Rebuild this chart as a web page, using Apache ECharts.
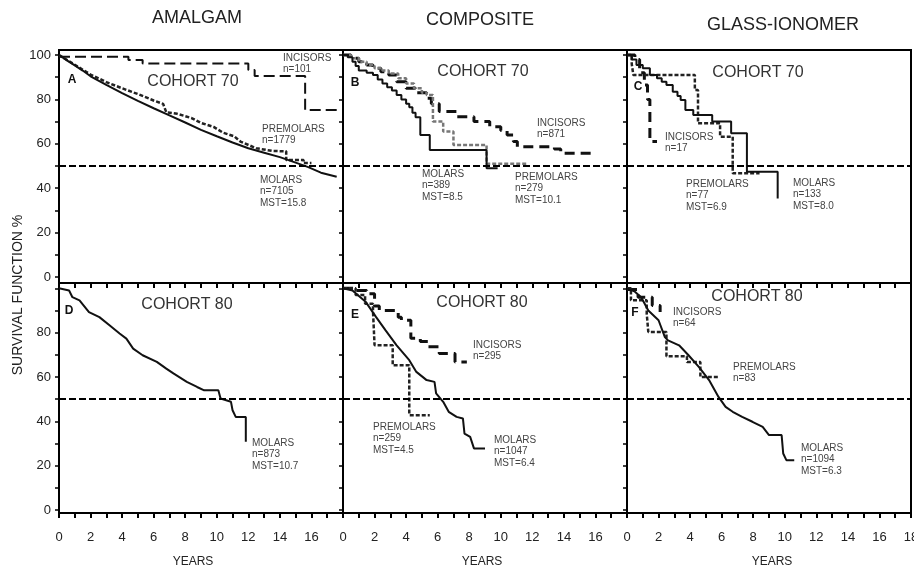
<!DOCTYPE html>
<html>
<head>
<meta charset="utf-8">
<title>Survival function by material and cohort</title>
<script src="https://cdn.jsdelivr.net/npm/echarts@6/dist/echarts.min.js"></script>
<style>
  html, body { margin: 0; padding: 0; background: #fff; }
  #chart { width: 914px; height: 570px; }
</style>
</head>
<body>
<div id="chart"></div>
<script>
// [years, survival %]

// A - amalgam, cohort 70
var aMolars = [[0, 100], [0.5, 97.6], [1, 95.3], [1.5, 93], [2, 90.4], [3, 86.5], [4, 82.8], [5, 79.3], [6, 76], [7, 72.8], [8, 69.6], [9, 66.3], [10, 63.4], [11, 60.6], [12, 58], [13, 56], [14, 54], [15, 51.5], [15.8, 49.5], [16.6, 47], [17.6, 45.2]]
var aPremolars = [[0, 100], [1, 95.6], [2, 91.2], [3, 87.8], [4, 85], [5, 82.4], [6, 79.5], [6.6, 78], [6.8, 74.2], [7.5, 73.5], [8.4, 71.6], [9, 69.4], [9.8, 67.6], [10.4, 65], [11.1, 63.4], [11.5, 61], [12.5, 58], [13.5, 56.8], [14.4, 56.6], [14.4, 52.7], [15.5, 52.7], [15.5, 51.3], [16, 51.3]]
var aIncisors = [[0, 99.2], [4.4, 97.7], [5.3, 96.2], [12, 93.2], [12.4, 90.5], [15.6, 75.2], [17.7, 75.2]]

// B - composite, cohort 70
var bMolars = [[0, 100], [0.3, 99], [0.6, 97], [0.8, 95], [1.0, 93], [1.5, 92], [1.9, 91], [2.2, 89], [2.5, 87.2], [2.8, 85.5], [3.1, 84], [3.4, 82], [3.7, 80], [4.0, 78], [4.2, 76.5], [4.4, 74], [4.6, 72], [4.9, 70], [4.9, 64], [5.5, 57.2], [9.1, 49], [9.8, 49]]
var bPremolars = [[0, 100], [0.5, 98.5], [1, 97], [1.5, 95.5], [2, 94], [2.5, 93], [2.9, 91.7], [3.5, 89.5], [4, 87.2], [4.5, 85], [5, 83], [5.3, 82], [5.7, 70], [6.35, 65.5], [7.0, 59.5], [9.1, 51], [11.7, 51]]
var bIncisors = [[0, 100], [0.5, 98.5], [1, 97], [1.5, 95.5], [1.9, 94], [2.4, 92.5], [2.9, 91], [3.4, 88], [4, 85], [4.6, 83], [5.3, 80.5], [5.6, 78], [6.1, 74.5], [7.2, 72.2], [8.3, 70], [9.3, 67.7], [10, 66], [10.4, 64], [10.8, 61], [11.05, 58.7], [13.4, 57.7], [13.8, 55.7], [16, 55.7]]

// C - glass-ionomer, cohort 70
var cMolars = [[0, 100], [0.3, 98], [0.6, 95.5], [1.0, 94], [1.45, 91], [1.9, 89.5], [2.2, 88], [2.5, 86.5], [2.9, 83.5], [3.2, 81.5], [3.4, 79.7], [3.7, 75.2], [4.2, 73], [5.4, 70], [6.6, 64.7], [7.6, 47.4], [9.55, 35.4]]
var cPremolars = [[0, 100], [0.3, 96], [0.4, 91], [4.3, 84.2], [4.5, 69.2], [5.9, 63.2], [6.7, 46.7], [8.4, 46.7]]
var cIncisors = [[0, 100], [0.5, 98], [0.8, 92], [1.1, 86.5], [1.3, 80], [1.45, 61], [1.9, 61]]

// D - amalgam, cohort 80
var dMolars = [[0, 100], [0.64, 99], [0.85, 96], [1.3, 94.6], [1.9, 89.3], [2.56, 87], [3.2, 83.3], [3.84, 79.6], [4.27, 77.3], [4.7, 72.8], [5.3, 69.8], [6.2, 66.8], [6.8, 63.8], [7.25, 61.6], [8.1, 57.8], [8.75, 55.5], [9.2, 54], [10.1, 54], [10.24, 50.3], [10.9, 48.8], [11.0, 45], [11.2, 42], [11.84, 42], [11.84, 30.8]]

// E - composite, cohort 80
var eMolars = [[0, 100], [0.6, 99], [1.45, 93.8], [2.1, 87], [2.7, 81], [3.4, 74.3], [4.2, 67.6], [4.65, 62.3], [5.3, 58.6], [5.8, 57.8], [5.9, 52.6], [6.35, 48.8], [6.7, 44.3], [7.2, 42], [7.6, 41.3], [7.7, 34.5], [8.06, 33], [8.3, 27.8], [9.0, 27.8]]
var ePremolars = [[0, 100], [0.8, 97], [1.4, 93], [1.9, 90], [2.0, 74.3], [3.15, 65.3], [4.2, 42.8], [5.5, 42.8]]
var eIncisors = [[0, 100], [0.8, 99], [1.5, 97.5], [2.0, 92], [2.3, 90], [3.5, 87], [3.7, 85.6], [4.3, 77.5], [4.9, 76], [5.4, 73.6], [6.1, 70.6], [7.1, 66.8], [7.85, 66.8]]

// F - glass-ionomer, cohort 80
var fMolars = [[0, 100], [0.5, 98.5], [0.9, 96], [1.35, 90], [2.0, 85.6], [2.4, 78], [2.6, 76.5], [3.3, 74.3], [3.9, 69.8], [4.55, 64.6], [5.2, 58.6], [5.8, 51], [6.25, 46.5], [6.7, 44.3], [7.3, 42], [7.95, 39.8], [8.6, 37.5], [9.0, 33.8], [9.8, 33.8], [9.9, 25.5], [10.1, 22.5], [10.6, 22.5]]
var fPremolars = [[0, 100], [0.25, 94.6], [1.25, 88.6], [1.35, 80.3], [2.5, 69.4], [3.8, 66.8], [4.65, 60], [5.8, 60]]
var fIncisors = [[0, 99.5], [0.7, 96], [1.35, 96], [1.6, 92.3], [2.1, 89.3]]

var yTicks = [0, 10, 20, 30, 40, 50, 60, 70, 80, 90, 100]
var yLabelsTop = [0, 20, 40, 60, 80, 100]
var yLabelsBottom = [0, 20, 40, 60, 80]
var medianLine = 50

var FONT = '"Liberation Sans", Arial, sans-serif'

var chart = echarts.init(document.getElementById('chart'))

var molarStyle = { color: '#111', width: 2, type: 'solid' }
var premolarStyle = { color: '#222', width: 2.5, type: [4, 2] }
var premolarGrey = { color: '#777', width: 2.5, type: [4, 2] }
var incisorStyle = { color: '#111', width: 2, type: [11, 5] }
var incisorThick = { color: '#111', width: 3, type: [10, 6] }

function curve(idx, data, style, step, withMedian) {
  var s = {
    type: 'line',
    xAxisIndex: idx,
    yAxisIndex: idx,
    data: data,
    step: step ? 'end' : false,
    symbol: 'none',
    silent: true,
    lineStyle: style,
    itemStyle: { color: style.color }
  }
  if (withMedian) {
    s.markLine = {
      symbol: 'none',
      silent: true,
      label: { show: false },
      lineStyle: { color: '#000', width: 2, type: [7, 3] },
      data: [{ yAxis: medianLine }]
    }
  }
  return s
}

function xAxis(idx, bottomRow, show18) {
  return {
    type: 'value',
    gridIndex: idx,
    min: 0,
    max: 18,
    interval: 1,
    axisLine: { show: true, onZero: false, lineStyle: { color: '#000', width: 2 } },
    axisTick: { show: true, length: 5, lineStyle: { color: '#000', width: 2 } },
    axisLabel: {
      show: bottomRow,
      margin: 18,
      fontSize: 13,
      color: '#222',
      fontFamily: FONT,
      formatter: function(v) {
        return (v % 2 === 0 && (v < 18 || show18)) ? String(v) : ''
      }
    },
    splitLine: { show: false }
  }
}

function yAxis(idx, topRow, labels) {
  return {
    type: 'value',
    gridIndex: idx,
    min: topRow ? -2.7 : -1.35,
    max: topRow ? 102.25 : 102.4,
    axisLine: { show: true, onZero: false, lineStyle: { color: '#000', width: 2 } },
    axisTick: { show: true, length: 4, customValues: yTicks, lineStyle: { color: '#000', width: 1.5 } },
    axisLabel: {
      show: !!labels,
      customValues: labels || [],
      margin: 8,
      fontSize: 13,
      color: '#222',
      fontFamily: FONT
    },
    splitLine: { show: false }
  }
}

function txt(x, y, text, font, align, vAlign, fill, extra) {
  var el = {
    type: 'text',
    x: x,
    y: y,
    silent: true,
    style: {
      text: text,
      font: font,
      fill: fill || '#222',
      align: align,
      verticalAlign: vAlign,
      textAlign: align,
      textVerticalAlign: vAlign,
      lineHeight: 11.5
    }
  }
  if (extra) Object.assign(el, extra)
  return el
}

var small = '10px ' + FONT
var cohort = '16px ' + FONT
var head = '18px ' + FONT
var letter = 'bold 12px ' + FONT
var grey = '#444'

var notes = [
  txt(197, 18, 'AMALGAM', head, 'center', 'middle'),
  txt(480, 20, 'COMPOSITE', head, 'center', 'middle'),
  txt(783, 25, 'GLASS-IONOMER', head, 'center', 'middle'),
  txt(18, 295, 'SURVIVAL FUNCTION %', '14px ' + FONT, 'center', 'middle', '#222', { rotation: Math.PI / 2 }),
  txt(193, 562, 'YEARS', '12px ' + FONT, 'center', 'middle'),
  txt(482, 562, 'YEARS', '12px ' + FONT, 'center', 'middle'),
  txt(772, 562, 'YEARS', '12px ' + FONT, 'center', 'middle'),

  txt(72, 80, 'A', letter, 'center', 'middle', '#111'),
  txt(355, 83, 'B', letter, 'center', 'middle', '#111'),
  txt(638, 87, 'C', letter, 'center', 'middle', '#111'),
  txt(69, 311, 'D', letter, 'center', 'middle', '#111'),
  txt(355, 315, 'E', letter, 'center', 'middle', '#111'),
  txt(635, 313, 'F', letter, 'center', 'middle', '#111'),

  txt(193, 82, 'COHORT 70', cohort, 'center', 'middle', '#333'),
  txt(483, 72, 'COHORT 70', cohort, 'center', 'middle', '#333'),
  txt(758, 73, 'COHORT 70', cohort, 'center', 'middle', '#333'),
  txt(187, 305, 'COHORT 80', cohort, 'center', 'middle', '#333'),
  txt(482, 303, 'COHORT 80', cohort, 'center', 'middle', '#333'),
  txt(757, 297, 'COHORT 80', cohort, 'center', 'middle', '#333'),

  txt(283, 52, 'INCISORS\nn=101', small, 'left', 'top', grey),
  txt(262, 123, 'PREMOLARS\nn=1779', small, 'left', 'top', grey),
  txt(260, 174, 'MOLARS\nn=7105\nMST=15.8', small, 'left', 'top', grey),

  txt(537, 117, 'INCISORS\nn=871', small, 'left', 'top', grey),
  txt(422, 168, 'MOLARS\nn=389\nMST=8.5', small, 'left', 'top', grey),
  txt(515, 171, 'PREMOLARS\nn=279\nMST=10.1', small, 'left', 'top', grey),

  txt(665, 131, 'INCISORS\nn=17', small, 'left', 'top', grey),
  txt(686, 178, 'PREMOLARS\nn=77\nMST=6.9', small, 'left', 'top', grey),
  txt(793, 177, 'MOLARS\nn=133\nMST=8.0', small, 'left', 'top', grey),

  txt(252, 437, 'MOLARS\nn=873\nMST=10.7', small, 'left', 'top', grey),

  txt(473, 339, 'INCISORS\nn=295', small, 'left', 'top', grey),
  txt(373, 421, 'PREMOLARS\nn=259\nMST=4.5', small, 'left', 'top', grey),
  txt(494, 434, 'MOLARS\nn=1047\nMST=6.4', small, 'left', 'top', grey),

  txt(673, 306, 'INCISORS\nn=64', small, 'left', 'top', grey),
  txt(733, 361, 'PREMOLARS\nn=83', small, 'left', 'top', grey),
  txt(801, 442, 'MOLARS\nn=1094\nMST=6.3', small, 'left', 'top', grey)
]

var gridBase = { show: true, borderColor: '#000', borderWidth: 2, containLabel: false, outerBoundsMode: 'none' }

chart.setOption({
  animation: false,
  backgroundColor: '#fff',
  textStyle: { fontFamily: FONT },
  grid: [
    Object.assign({ left: 59, top: 50, width: 284, height: 233 }, gridBase),
    Object.assign({ left: 343, top: 50, width: 284, height: 233 }, gridBase),
    Object.assign({ left: 627, top: 50, width: 284, height: 233 }, gridBase),
    Object.assign({ left: 59, top: 283, width: 284, height: 230 }, gridBase),
    Object.assign({ left: 343, top: 283, width: 284, height: 230 }, gridBase),
    Object.assign({ left: 627, top: 283, width: 284, height: 230 }, gridBase)
  ],
  xAxis: [
    xAxis(0, false, false),
    xAxis(1, false, false),
    xAxis(2, false, false),
    xAxis(3, true, false),
    xAxis(4, true, false),
    xAxis(5, true, true)
  ],
  yAxis: [
    yAxis(0, true, yLabelsTop),
    yAxis(1, true, null),
    yAxis(2, true, null),
    yAxis(3, false, yLabelsBottom),
    yAxis(4, false, null),
    yAxis(5, false, null)
  ],
  series: [
    curve(0, aIncisors, incisorStyle, true),
    curve(0, aPremolars, premolarStyle, false),
    curve(0, aMolars, molarStyle, false, true),

    curve(1, bIncisors, incisorThick, true),
    curve(1, bPremolars, premolarGrey, true),
    curve(1, bMolars, molarStyle, true, true),

    curve(2, cIncisors, incisorThick, true),
    curve(2, cPremolars, premolarStyle, true),
    curve(2, cMolars, molarStyle, true, true),

    curve(3, dMolars, molarStyle, false, true),

    curve(4, eIncisors, incisorThick, true),
    curve(4, ePremolars, premolarStyle, true),
    curve(4, eMolars, molarStyle, false, true),

    curve(5, fIncisors, incisorThick, true),
    curve(5, fPremolars, premolarStyle, true),
    curve(5, fMolars, molarStyle, false, true)
  ],
  graphic: notes
})
</script>
</body>
</html>
